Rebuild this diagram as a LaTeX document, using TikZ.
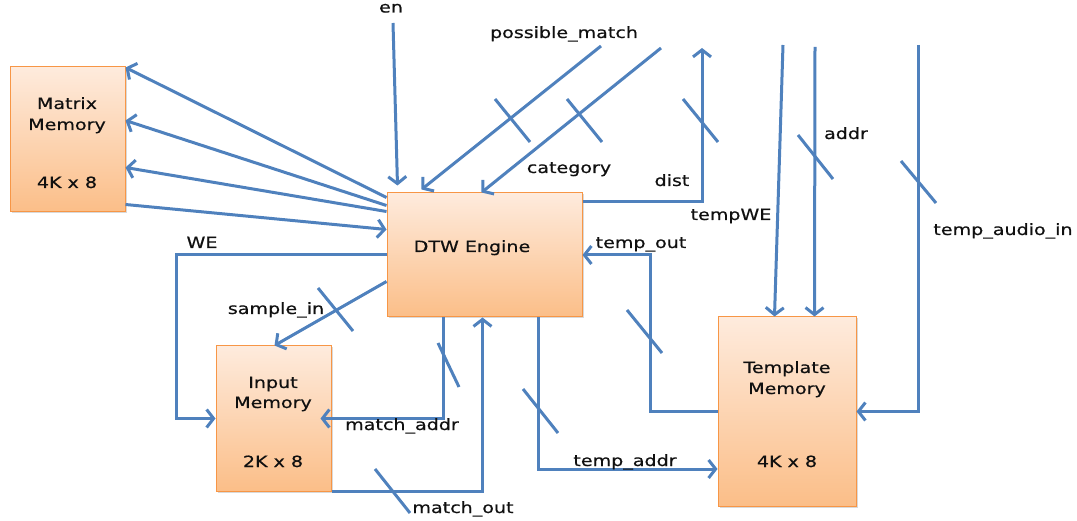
\documentclass[tikz,border=0pt]{standalone}
\usepackage{fontspec}
\setmainfont{DejaVu Sans}[FakeStretch=1.23, FakeBold=0.5]
\usetikzlibrary{arrows.meta,shadows}

\definecolor{wire}{HTML}{4F81BD}
\definecolor{boxtop}{HTML}{FEEBDD}
\definecolor{boxbot}{HTML}{FBBE88}
\definecolor{boxedge}{HTML}{F79646}
\definecolor{ink}{HTML}{101010}

\tikzset{
  memblock/.style={rectangle, inner sep=0pt, draw=boxedge, line width=1pt,
    top color=boxtop, bottom color=boxbot,
    drop shadow={shadow xshift=1.5pt, shadow yshift=-1.5pt, opacity=0.3}},
  lbl/.style={inner sep=0pt, anchor=base, text=ink,
    font=\fontsize{15.5}{20}\selectfont},
  bus/.style={draw=wire, line width=3pt},
  sig/.style={bus, -{Straight Barb[length=7pt,width=18pt]}},
  tick/.style={draw=wire, line width=3pt}
}

\begin{document}
\begin{tikzpicture}[x=1pt, y=-1pt]
\useasboundingbox (0,0) rectangle (1077,521);

% memory blocks and the engine
\node[memblock, minimum width=115pt, minimum height=145pt] (mm) at (67.5,139.5) {};
\node[memblock, minimum width=195pt, minimum height=124pt] (dtw) at (484.5,255) {};
\node[memblock, minimum width=115pt, minimum height=145pt] (im) at (273.5,418.5) {};
\node[memblock, minimum width=138pt, minimum height=189pt] (tm) at (787,411.5) {};

% block captions
\node[lbl] at (67,109) {Matrix};
\node[lbl] at (67,130) {Memory};
\node[lbl] at (67,188) {4K x 8};
\node[lbl] at (472,252) {DTW Engine};
\node[lbl] at (273,388) {Input};
\node[lbl] at (273,408) {Memory};
\node[lbl] at (273,467) {2K x 8};
\node[lbl] at (787,373) {Template};
\node[lbl] at (787,394) {Memory};
\node[lbl] at (787,467) {4K x 8};

% free ends of the external signals
\coordinate (enin) at (393,23);
\coordinate (pmout) at (601,46);
\coordinate (catout) at (661,48);
\coordinate (distout) at (702,48);
\coordinate (twein) at (783,45);
\coordinate (addrin) at (815,47);
\coordinate (audioin) at (918,45);

% engine <-> matrix memory
\draw[sig] ([yshift=-5pt]dtw.north west) -- ([yshift=-1pt]mm.north east);
\draw[sig] ([yshift=-13pt]dtw.north west) -- ([yshift=-54pt]mm.north east);
\draw[sig] ([yshift=-19pt]dtw.north west) -- ([yshift=-101pt]mm.north east);
\draw[sig] ([yshift=8pt]mm.south east) -- ([yshift=-37pt]dtw.north west);

% engine top side
\draw[sig] (enin) -- ([xshift=11pt,yshift=7pt]dtw.north west);
\draw[sig] (pmout) -- ([xshift=35pt,yshift=3pt]dtw.north west);
\draw[sig] (catout) -- ([xshift=95pt]dtw.north west);
\draw[sig] ([yshift=-9pt]dtw.north east) -| (distout);

% template memory inputs
\draw[sig] (twein) -- ([xshift=57pt]tm.north west);
\draw[sig] (addrin) -- ([xshift=97pt]tm.north west);
\draw[sig] (audioin) |- (tm.east);

% engine <-> template memory
\draw[sig] (tm.west) -| ([xshift=68pt]dtw.east) -- (dtw.east);
\draw[sig] ([xshift=53.5pt]dtw.south) |- ([yshift=-57.5pt]tm.west);

% engine <-> input memory
\draw[sig] (dtw.west) -| ([xshift=-39pt]im.west) -- (im.west);
\draw[sig] ([yshift=-89pt]dtw.north west) -- ([xshift=59pt]im.north west);
\draw[sig] ([xshift=57pt]dtw.south west) |- ([xshift=-11pt]im.east);
\draw[sig] (im.south east) -| ([xshift=96pt]dtw.south west);

% bus width slashes
\draw[tick] (495,99) -- (530,142);
\draw[tick] (567,99) -- (602,142);
\draw[tick] (683,99) -- (718,142);
\draw[tick] (798,135) -- (833,179);
\draw[tick] (901,161) -- (936,203);
\draw[tick] (627,310) -- (662,353);
\draw[tick] (523,389) -- (558,433);
\draw[tick] (318,288) -- (353,331);
\draw[tick] (438,343) -- (459,387);
\draw[tick] (375,469) -- (410,513);

% signal names
\node[lbl] at (391,12.5) {en};
\node[lbl] at (564,38) {possible\_match};
\node[lbl] at (569,173) {category};
\node[lbl] at (672,186) {dist};
\node[lbl] at (731,220) {tempWE};
\node[lbl] at (846,139) {addr};
\node[lbl] at (1003,235) {temp\_audio\_in};
\node[lbl] at (641,248) {temp\_out};
\node[lbl] at (202,248) {WE};
\node[lbl] at (276,314) {sample\_in};
\node[lbl] at (402,430) {match\_addr};
\node[lbl] at (625,466) {temp\_addr};
\node[lbl] at (463,513) {match\_out};
\end{tikzpicture}
\end{document}
